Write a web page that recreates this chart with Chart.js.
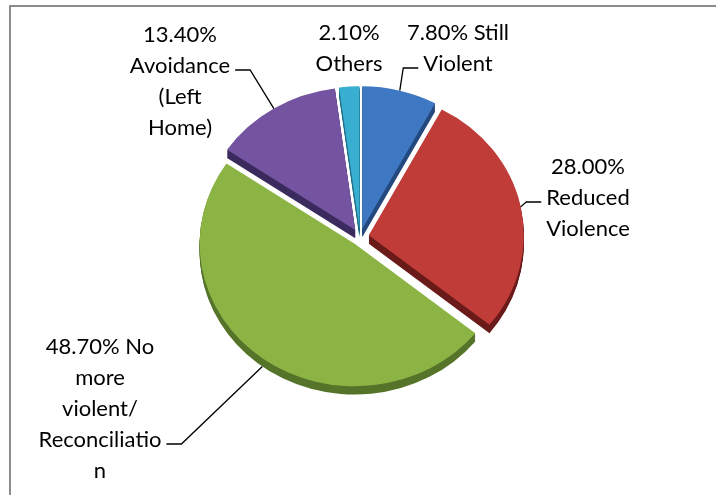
<!DOCTYPE html>
<html>
<head>
<meta charset="utf-8">
<title>Outcome of intervention</title>
<script src="https://cdn.jsdelivr.net/npm/chart.js@4.4.1/dist/chart.umd.min.js"></script>
<style>
  html, body { margin: 0; padding: 0; background: #fff; }
  #wrap { width: 716px; height: 495px; }
</style>
</head>
<body>
<div id="wrap"><canvas id="outcomeChart" width="716" height="495"></canvas></div>
<script>
// ---- data ----
const categories = ['Still Violent', 'Reduced Violence', 'No more violent/ Reconciliation', 'Avoidance (Left Home)', 'Others'];
const percentages = [7.8, 28.0, 48.7, 13.4, 2.1];
// label text as wrapped in the original, {p} is replaced by the value
const labelWraps = [
  ['{p} Still', 'Violent'],
  ['{p}', 'Reduced', 'Violence'],
  ['{p} No', 'more', 'violent/', 'Reconciliatio', 'n'],
  ['{p}', 'Avoidance', '(Left', 'Home)'],
  ['{p}', 'Others']
];

// ---- look ----
const topColors = ['#3f78c2', '#c03c38', '#8cb444', '#7454a0', '#38aed0'];
const sideColors = ['#24497e', '#6a1b19', '#56732a', '#3b2a5e', '#1f6e86'];
const FONT = '22px Lato';
const LINE_H = 31;
const EXPLODE = 9;     // px each slice is pulled out
const SQUASH = 0.92;   // vertical flattening of the tilted pie
const DEPTH = 9;       // thickness of the pie

// label block placement relative to the pie centre (dx = block centre, dy = first line)
// row = text line the leader starts from, side = which side of that line
const labelLayout = [
  { dx: 98, dy: -204, row: 1, side: 'left' },
  { dx: 228, dy: -70, row: 1, side: 'left' },
  { dx: -260, dy: 110, row: 3, side: 'right' },
  { dx: -180, dy: -202, row: 1, side: 'right' },
  { dx: -11, dy: -204, row: null }
];

const fmtPct = v => v.toFixed(2) + '%';

// pulls every slice out along its middle angle
const explodePlugin = {
  id: 'explode',
  afterDatasetUpdate(chart, args) {
    args.meta.data.forEach(arc => {
      const mid = (arc.startAngle + arc.endAngle) / 2;
      arc.x += Math.cos(mid) * EXPLODE;
      arc.y += Math.sin(mid) * EXPLODE;
    });
  }
};

function pieCentre(chart) {
  const a = chart.chartArea;
  return { x: (a.left + a.right) / 2, y: (a.top + a.bottom) / 2 };
}

// flattens the pie and paints the darker side walls under the slices
const tiltPlugin = {
  id: 'tilt',
  beforeDatasetsDraw(chart) {
    const ctx = chart.ctx;
    const c = pieCentre(chart);
    ctx.save();
    ctx.translate(0, c.y);
    ctx.scale(1, SQUASH);
    ctx.translate(0, -c.y);
    chart.getDatasetMeta(0).data.forEach((arc, i) => {
      ctx.fillStyle = sideColors[i];
      for (let t = 1; t <= DEPTH; t++) {
        ctx.beginPath();
        ctx.moveTo(arc.x, arc.y + t);
        ctx.arc(arc.x, arc.y + t, arc.outerRadius, arc.startAngle, arc.endAngle);
        ctx.closePath();
        ctx.fill();
      }
    });
  },
  afterDatasetsDraw(chart) {
    chart.ctx.restore();
  }
};

// frame line (top and left only are inside the picture)
const framePlugin = {
  id: 'frame',
  beforeDraw(chart) {
    const ctx = chart.ctx;
    ctx.save();
    ctx.fillStyle = '#ffffff';
    ctx.fillRect(0, 0, chart.width, chart.height);
    ctx.strokeStyle = '#8c8c8c';
    ctx.lineWidth = 2;
    ctx.beginPath();
    ctx.moveTo(10, chart.height + 2);
    ctx.lineTo(10, 6);
    ctx.lineTo(chart.width + 2, 6);
    ctx.stroke();
    ctx.restore();
  }
};

// Excel style data labels with leader lines
const labelPlugin = {
  id: 'sliceLabels',
  afterDraw(chart) {
    const ctx = chart.ctx;
    const c = pieCentre(chart);
    ctx.save();
    ctx.font = FONT;
    ctx.fillStyle = '#000000';
    ctx.textAlign = 'center';
    ctx.textBaseline = 'middle';
    chart.getDatasetMeta(0).data.forEach((arc, i) => {
      const lay = labelLayout[i];
      const lines = labelWraps[i].map(s => s.replace('{p}', fmtPct(percentages[i])));
      const bx = c.x + lay.dx;
      const by = c.y + lay.dy;
      lines.forEach((s, k) => ctx.fillText(s, bx, by + k * LINE_H));

      if (lay.row === null) return;
      const mid = (arc.startAngle + arc.endAngle) / 2;
      const R = arc.outerRadius;
      let px = arc.x + Math.cos(mid) * R;
      let py = c.y + (arc.y + Math.sin(mid) * R - c.y) * SQUASH;
      if (Math.sin(mid) > 0.5) py += DEPTH * SQUASH;
      const w = ctx.measureText(lines[lay.row]).width;
      const ly = by + lay.row * LINE_H + 4;
      const dir = lay.side === 'left' ? -1 : 1;
      const x0 = bx + dir * (w / 2 + 5);
      const x1 = x0 + dir * 15;
      ctx.strokeStyle = '#000000';
      ctx.lineWidth = 1.3;
      ctx.beginPath();
      ctx.moveTo(x0, ly);
      ctx.lineTo(x1, ly);
      ctx.lineTo(px, py);
      ctx.stroke();
    });
    ctx.restore();
  }
};

new Chart(document.getElementById('outcomeChart').getContext('2d'), {
  type: 'pie',
  data: {
    labels: categories,
    datasets: [{
      data: percentages,
      backgroundColor: topColors,
      borderWidth: 0
    }]
  },
  options: {
    responsive: false,
    animation: false,
    radius: 155,
    layout: { padding: { left: 24, right: 20, top: 0, bottom: 21 } },
    events: [],
    plugins: {
      legend: { display: false },
      tooltip: { enabled: false }
    }
  },
  plugins: [framePlugin, explodePlugin, tiltPlugin, labelPlugin]
});
</script>
</body>
</html>
